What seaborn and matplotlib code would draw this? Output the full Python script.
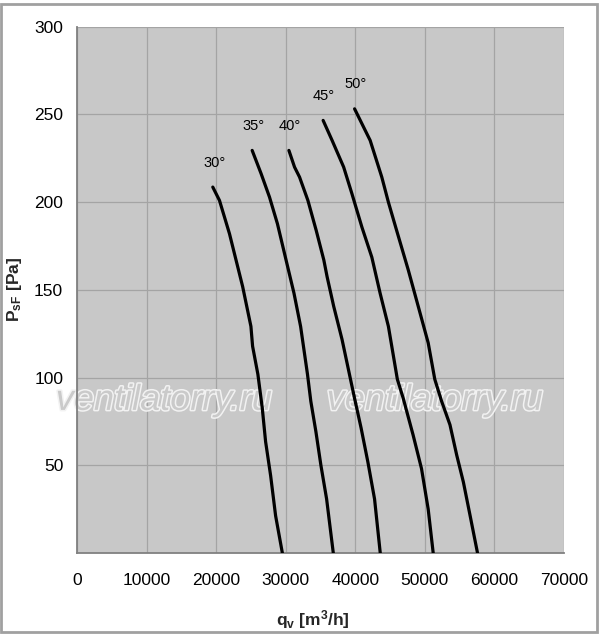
import matplotlib
matplotlib.use("Agg")
import matplotlib.pyplot as plt
import matplotlib.patheffects as pe
from matplotlib.patches import Rectangle
from matplotlib.ticker import MultipleLocator
import seaborn as sns
import pandas as pd

# ---- data ----
angles = ["30°", "35°", "40°", "45°", "50°"]

q_30 = [19520, 20480, 21920, 22880, 23810, 25000, 25240, 26000, 26630, 27110, 27830, 28550, 29520]
p_30 = [208.6, 201.0, 182.0, 166.7, 151.9, 129.2, 117.9, 101.9, 82.7, 63.5, 44.2, 21.2, 0.0]

q_35 = [25180, 26470, 27670, 28810, 30070, 31190, 32140, 33130, 33610, 34340, 35060, 35880, 36840]
p_35 = [229.5, 216.2, 202.9, 187.7, 166.7, 148.1, 129.2, 101.9, 86.5, 69.2, 50.0, 30.8, 0.0]

q_40 = [30460, 31270, 31990, 33190, 34390, 35480, 35950, 36900, 38100, 39160, 39880, 40840, 41810, 42770, 43590]
p_40 = [229.5, 220.0, 214.3, 201.0, 183.8, 167.0, 157.5, 140.6, 121.7, 101.9, 88.5, 71.2, 51.9, 30.8, 0.0]

q_45 = [35380, 36670, 38330, 39520, 40950, 42380, 43570, 44760, 46050, 46870, 48310, 49520, 50480, 51200]
p_45 = [246.6, 235.2, 220.0, 204.8, 185.8, 168.6, 148.1, 129.2, 99.0, 88.5, 67.3, 48.1, 25.0, 0.0]

q_50 = [39900, 42140, 43810, 44760, 45950, 47620, 49050, 50480, 51430, 52410, 53610, 54580, 55540, 56510, 57570]
p_50 = [253.2, 235.2, 214.3, 200.0, 183.8, 161.3, 140.6, 119.8, 99.0, 86.5, 73.1, 55.8, 40.4, 21.2, 0.0]

label_q = [19760, 25370, 30650, 35440, 40000]
label_p = [222.4, 243.3, 243.3, 260.5, 267.1]

x_ticks = [0, 10000, 20000, 30000, 40000, 50000, 60000, 70000]
y_ticks = [50, 100, 150, 200, 250, 300]

watermark = "ventilatorry.ru"
wm_q = [12500, 51440]
wm_p = [87.0, 87.0]

series = [(q_30, p_30), (q_35, p_35), (q_40, p_40), (q_45, p_45), (q_50, p_50)]
frames = []
for name, (q, p) in zip(angles, series):
    frames.append(pd.DataFrame({"q": q, "p": p, "angle": name}))
df = pd.concat(frames, ignore_index=True)

# ---- style ----
sns.set_theme(style="white")
plt.rcParams["font.family"] = ["Liberation Sans", "DejaVu Sans"]
plt.rcParams["mathtext.fontset"] = "custom"
plt.rcParams["mathtext.rm"] = "Liberation Sans"
plt.rcParams["mathtext.bf"] = "Liberation Sans:bold"
plt.rcParams["mathtext.it"] = "Liberation Sans:italic"

fig = plt.figure(figsize=(6.0, 6.35), dpi=100)
ax = fig.add_axes([0.1283, 0.1291, 0.8117, 0.8288])
ax.set_facecolor("#c8c8c8")

sns.lineplot(data=df, x="q", y="p", units="angle", estimator=None, sort=False,
             color="black", linewidth=2.3, ax=ax, zorder=3)

for t, q, p in zip(angles, label_q, label_p):
    ax.text(q, p, t, ha="center", va="center", fontsize=10.5, color="black", zorder=4)

for q, p in zip(wm_q, wm_p):
    ax.text(q, p, watermark, ha="center", va="center", fontsize=26, style="italic",
            color="#cacaca", zorder=2,
            path_effects=[pe.Stroke(linewidth=2.2, foreground="#f2f2f2"), pe.Normal()])

ax.set_xlim(0, 70000)
ax.set_ylim(0, 300)
ax.set_xticks(x_ticks)
ax.set_xticklabels([str(v) for v in x_ticks])
ax.set_yticks(y_ticks)
ax.set_yticklabels([str(v) for v in y_ticks])
ax.xaxis.set_minor_locator(MultipleLocator(2000))
ax.yaxis.set_minor_locator(MultipleLocator(10))

ax.grid(True, which="major", color="#a4a4a4", linewidth=0.9, zorder=1)
ax.set_axisbelow(True)

for s in ["top", "right"]:
    ax.spines[s].set_visible(False)
for s in ["left", "bottom"]:
    ax.spines[s].set_color("#808080")
    ax.spines[s].set_linewidth(1.3)

ax.tick_params(axis="both", which="major", direction="out", length=3.4, width=1,
               color="#808080", labelsize=12.5, labelcolor="black")
ax.tick_params(axis="both", which="minor", direction="out", length=2.5, width=0.8,
               color="#808080")
ax.tick_params(axis="x", which="major", pad=11)
ax.tick_params(axis="y", which="major", pad=6.5)

ax.set_xlabel(r"$\mathbf{q_v}$ [m$^{\mathbf{3}}$/h]", fontsize=12.5, fontweight="bold")
ax.set_ylabel(r"$\mathbf{P_{sF}}$ [Pa]", fontsize=12.5, fontweight="bold")
ax.xaxis.set_label_coords(0.485, -0.104)
ax.yaxis.set_label_coords(-0.109, 0.5)

fig.patches.append(Rectangle((0.002, 0.004), 0.993, 0.99, transform=fig.transFigure,
                             fill=False, edgecolor="#a0a0a0", linewidth=2))

fig.savefig("out.png", dpi=100)
